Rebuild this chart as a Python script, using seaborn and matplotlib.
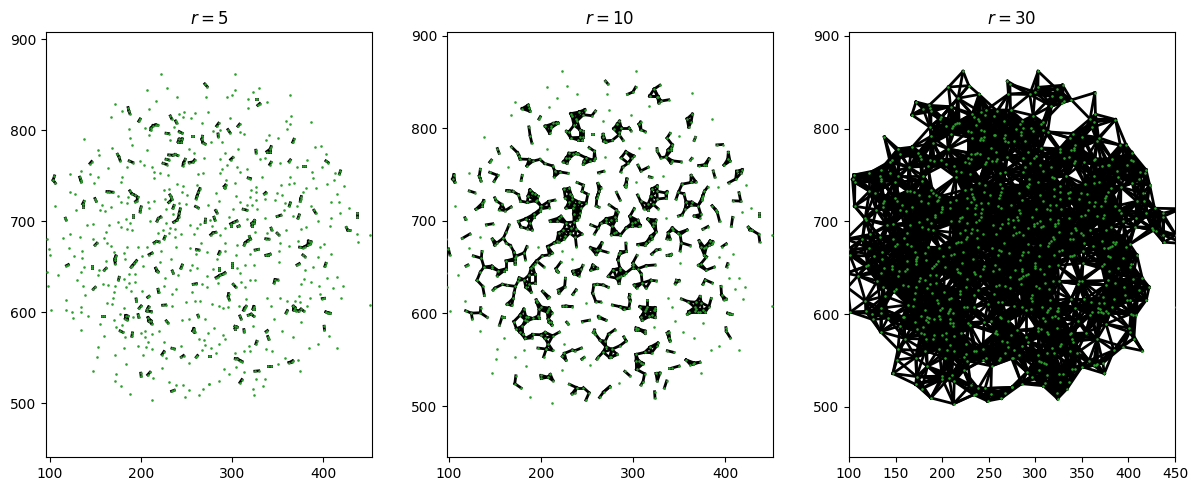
import numpy as np
import pandas as pd
import matplotlib
matplotlib.use('Agg')
import matplotlib.pyplot as plt
import seaborn as sns

# node positions, one list per quadrant
nodes_top_left = [
    (222.5,861.6),(206.8,844.7),(228.6,846.2),(270.1,851),(272.7,848),(239.6,836.7),(217,832.6),(271.2,837),
    (171.9,828.6),(186,825),(186.8,821.7),(187.9,818.4),(179.5,821.3),(209,823.5),(167.5,814.7),(232.3,815.8),
    (233.7,812.9),(241.4,817.6),(247.6,820.2),(259.2,818.7),(273.4,819.8),(246.1,814.7),(255.2,813.6),(199.2,812.5),
    (197.7,810),(238.1,810.3),(239.2,808.1),(266.9,807.8),(216.3,806),(218.5,805.6),(213.4,805.2),(211.2,802.6),
    (210.8,800.4),(204.6,802.3),(235.9,803.4),(186.8,801.5),(227.6,796.8),(230.5,796.4),(242.1,798.6),(245.4,796.8),
    (209.4,794.6),(255.6,793.5),(257,793.5),(267.6,793.5),(266.9,790.2),(138,790.9),(188.2,791.7),(232.3,789.8),
    (242.1,790.2),(245.4,790.5),(240.7,787.3),(244.3,787.3),(268,786.5),(270.5,785),(190,784.3),(167.9,780),
    (152.6,778.1),(206.4,778.1),(252.3,779.2),(154.4,773),(258.1,775.2),(174.4,773.7),(176.2,770.4),(177.3,766.8),
    (235.2,772.6),(237.7,773.4),(240.3,772.3),(230.5,773),(227.6,768.2),(230.5,767.5),(269.8,769),(187.2,766.4),
    (191.2,764.6),(198.8,766.4),(146,765.7),(144.2,763.5),(248.7,768.2),(246.8,764.2),(246.1,761.3),(258.9,767.5),
    (257.4,765.3),(253,764.6),(224.3,763.8),(228.3,762.4),(203.9,762),(184.6,759.4),(212.6,759.4),(164.2,758.3),
    (134,755.8),(214.8,754),(220.6,752.9),(122,752.1),(144.2,752.5),(229.4,751.4),(262.5,752.1),(268,753.6),
    (105.3,749.9),(152.9,749.2),(179.5,749.2),(214.5,747.7),(132.9,748.5),(134,745.5),(134.7,743.3),(103.8,745.2),
    (106.3,741.9),(178.4,743.7),(148.9,742.6),(239.2,741.5),(261.8,740.4),(246.1,738.6),(264.7,736),(263.2,732),
    (261.8,728.3),(260.7,725),(225,734.2),(230.5,735.3),(122,732.4),(127.8,730.5),(162.8,732.7),(165.3,732.4),
    (169.3,732),(187.9,733.5),(190,730.5),(193.3,728.7),(196.6,726.5),(175.5,728.3),(231.9,729),(233.4,726.5),
    (234.1,724),(244.7,732),(250.9,728.7),(186.1,726.9),(226.5,725),(149.7,725),(151.1,722),(195.5,722.5),
    (194.1,721.7),(177.7,721.4),(185,720),(208.3,721),(214.8,722.5),(137.6,722),(136.2,719.2),(136.2,715.9),
    (241.8,720),(249,719.5),(230.5,720.7),(157.3,717.7),(106,716.3),(167.5,715.2),(200.3,715.9),(199.5,713),
    (199.2,710.4),(236.3,717.4),(235.2,714.4),(208.6,714.4),(227.2,714),(260,716.3),(262.9,714.8),(274.1,717.4),
    (129.3,712.6),(154.8,712.2),(161,711.1),(243.2,713.7),(242.1,709),(235.6,707.5),(191.9,707.1),(191.9,704.5),
    (117.3,703.4),(118,701.6),(183.5,702.4),(221.7,704.9),(219.2,703.1),(217.7,700.2),(241.4,704.5),(209.7,700.2),
    (175.5,699.4),(235.9,699),(239.6,701.2),(270.9,702.4),(270.5,698.7),(264.7,697.2),(188.2,698),(227.2,698),
    (140.6,695.8),(147.5,696.9),(165.3,695.8),(254.1,695.8),(178,693.6),(185,691.7),(190.4,690.3),(262.1,692.5),
    (232.3,692.1),(224.3,690.3),(237.7,691),(162,687.7),(219.1,687),(122.7,685.9),(231.2,687),(244.3,685.9),
    (258.1,685.9),(133.6,682.6),(226.5,683.3),(225.4,680.8),(159.1,681.5),(114.4,681.1),(96.9,680.8),(147.1,680.4),
    (237.4,682.2),(217,677.8),(214.5,676.4),(219.9,677.5),(151.8,676),(149.7,673.8),(162.4,676),(166.8,673.4),
    (266.1,676.4),(121.6,671.2),(99.4,669.8),(184.6,672.3),(197,671.6),(207.2,672.3),(238.5,672.3),(253.8,671.2),
    (261,669),
]

nodes_top_right = [
    (303.1,861.6),(329.3,846.6),(302.8,844.4),(323.1,842.5),(299.8,839.2),(294,836.7),(363.9,838.5),(318,834.8),
    (326.4,834.1),(327.5,834.1),(338.8,830.8),(330.4,829.4),(328.2,827.5),(317.3,824.2),(297.7,814),(364.6,815.4),
    (358.8,810.3),(386.1,809.6),(285.3,807.8),(283.1,804.8),(308.2,806.7),(306.4,804.5),(363.2,807),(279.1,799.7),
    (287.1,800.8),(295.5,800.8),(297.7,797.5),(360.6,801.2),(308.6,798.6),(313.3,796.4),(284.6,796),(284.9,793.1),
    (340.3,794.6),(350.4,791.3),(337,789.5),(367.9,790.2),(366.5,786.9),(277.3,786.9),(289.3,786.9),(391.2,782.1),
    (397.4,782.5),(342.8,782.1),(341.7,779.2),(341.7,776.6),(338.1,776.6),(306.4,779.2),(326.1,778.1),(326.4,775.2),
    (292.2,774.8),(403.6,774.1),(300.9,770.1),(298.4,767.9),(287.1,768.2),(330.4,768.2),(335.9,769.3),(363.9,767.5),
    (362.5,765.7),(382.5,767.1),(402.9,766.4),(405.4,764.6),(342.8,764.9),(341.3,762.4),(352.3,763.8),(294.8,762.4),
    (371.6,759.8),(377.7,760.5),(379.6,760.5),(398.9,760.2),(305.3,760.2),(316.6,758),(288.6,758),(286.7,753.2),
    (308.6,754),(387.2,754),(418.9,755.4),(417.8,752.1),(412.7,753.6),(317.7,747.7),(320.2,747),(333,748.8),
    (363.2,749.2),(389,747.4),(293.3,745.2),(411.6,745.2),(303.1,741.9),(368.3,742.2),(362.8,741.5),(404,741.2),
    (353.4,739.7),(292.9,739.7),(291.5,738.2),(292.2,736.8),(326.4,737.9),(381,736.4),(391.9,736.8),(422.9,738.6),
    (320.6,734.6),(377.7,732),(326.1,732),(337,731.6),(335.5,730.2),(349.4,730.9),(355.2,729.4),(282,730.9),
    (415.2,730.5),(304.9,728),(319.9,726.9),(375.9,727.2),(375.2,724.7),(374.8,722.1),(336.2,724.7),(326.4,723.6),
    (346.8,723.6),(286,722.5),(409,721.7),(417.1,721.4),(308.2,721.4),(357.7,720.6),(363.9,720.3),(362.8,717),
    (316.2,717.7),(322.1,717.7),(370.8,716.6),(386.1,716.3),(428,714.1),(301.3,713.3),(312.2,713.3),(316.2,712.2),
    (327.1,713.3),(356.6,712.6),(389.8,712.2),(391.6,709.3),(282,711.9),(283.5,709.3),(418.5,709.3),(436.7,708.6),
    (436.7,704.9),(296.6,704.9),(353.4,706.7),(349.4,705.3),(366.5,705.3),(373.7,707.1),(372.3,703.4),(408.3,703.8),
    (336.2,703.1),(280.2,704.5),(281.3,701.3),(316.2,702),(394.1,699.8),(305.3,700.5),(301.7,698.7),(298.4,697.2),
    (298.4,694.7),(275.8,701.3),(324.6,700.9),(324.2,698),(321.7,697.6),(321.7,695),(307.9,695),(306.4,694.3),
    (277.6,694.3),(406.9,694.3),(381.4,693.9),(292.6,692.5),(342.8,692.5),(343.5,690.6),(425.4,693.2),(426.9,690.3),
    (429.4,689.9),(358.8,690.3),(375.9,691),(325,688.4),(338.4,687.3),(282,688),(279.1,687.3),(276.6,685.2),
    (349.4,687),(351.2,685.2),(286.4,684.8),(436.7,685.5),(450.9,685.2),(319.1,683.3),(320.2,680.4),(317,678.6),
    (314.4,676.4),(313.3,673.8),(337,680.8),(340.3,680.4),(437.8,677.5),(371.9,678.6),(352.6,676.4),(292.2,676),
    (305.3,674.5),(383.9,678.2),(386.5,677.5),(385.8,675.3),(382.8,673.8),(379.9,672.3),(377.7,671.2),(374.1,671.6),
    (401.4,675.3),(362.1,673.4),(397,672.3),
]

nodes_bottom_left = [
    (135.8,667),(170.4,666.7),(181.7,665.6),(100.9,663.4),(126.4,662.3),(135.1,659.7),(172.6,661.9),(171.5,659.4),
    (171.5,657.2),(183.1,658.3),(201.3,662.3),(212.3,665.2),(209,663.4),(222.5,667),(233.4,659),(260,663.8),
    (263.6,668.5),(272.3,666),(162,656.8),(195.2,656.8),(193,653.9),(190.8,651.3),(189.3,649.5),(221.4,655.3),
    (120.5,652.4),(118.4,651.3),(138,650.2),(146.4,651.3),(146.4,649.1),(171.9,653.5),(202.8,650.6),(245.4,652),
    (243.9,648.4),(256.3,652.4),(261.4,648.7),(216.3,648.4),(217.4,645.5),(218.8,644.7),(254.1,646.9),(162,648.4),
    (159.9,646.2),(153.7,646.2),(134,644.7),(96.9,644),(109.6,641.4),(234.5,645.5),(235.6,642.9),(241,641),
    (187.2,641.8),(193.3,642.5),(181.7,636.7),(176.2,638.5),(175.5,635.6),(152.6,640.7),(226.5,638.1),(273.1,640),
    (130.4,635.9),(187.2,632.3),(193.3,633),(261,631.5),(257.4,630.8),(267.6,630.8),(273.1,628.3),(98.3,628.6),
    (136.6,629.3),(158,631.5),(163.5,630.4),(172.2,629.3),(183.5,628.3),(225.7,629),(150,627.5),(147.8,625.3),
    (218.8,625.3),(219.5,622),(238.1,625.7),(189.3,623.1),(170.8,622.8),(201.7,623.9),(256,622),(234.5,620.6),
    (138.4,619.5),(209,617.6),(207.5,616.5),(169.7,616.2),(194.8,614.7),(195.2,612.1),(117.6,614),(259.6,612.9),
    (264.7,612.5),(249.4,611.4),(163.1,610),(168.2,608.9),(223.9,607.8),(227.2,608.1),(233.7,607.4),(134.4,606.3),
    (200.3,607),(198.1,604.5),(208.6,605.9),(207.2,603.4),(206.8,601.5),(181.3,604.8),(118,603),(101.6,602.3),
    (124.2,600.4),(134,600.8),(211.5,600.8),(177.3,598.2),(197,597.5),(197.7,594.6),(183.5,596.4),(185.7,595.7),
    (183.1,593.1),(185.3,592),(157.7,596.4),(159.5,596.4),(141.7,595.7),(191.2,594.6),(262.5,596.8),(263.2,595.3),
    (252.7,592.8),(270.5,592.8),(125.3,594.2),(207.9,594.2),(208.6,590.6),(211.2,590.6),(211.9,587.6),(170.4,591.3),
    (245,591.3),(227.9,590.6),(229.7,588.4),(154.8,587.3),(179.5,586.2),(173.3,583.6),(134,581),(258.1,582.1),
    (257,579.6),(258.9,578.1),(177.3,579.6),(180.2,578.1),(204.6,579.6),(219.9,579.9),(199.9,577),(190.8,577.4),
    (190.1,573.7),(273.4,577.7),(212.6,575.9),(159.9,573.7),(182.8,573),(204.3,573.4),(264.3,571.2),(269.8,570),
    (225.4,567.5),(207.9,567.1),(270.5,564.2),(196.6,562.7),(205.7,561.6),(181.7,560.5),(152.6,562),(234.1,560.5),
    (236.7,559.8),(243.9,562.7),(212.6,560.2),(267.6,558.3),(225.4,556.9),(223.2,553.6),(202.8,553.2),(171.5,553.2),
    (151.5,550.7),(246.8,552.5),(244.3,550.7),(262.1,552.5),(260.7,550.7),(274.5,552.5),(227.2,549.6),(184.2,543.7),
    (253,544.1),(223.2,539.3),(147.1,536),(172.6,532.7),(199.9,533.1),(200.3,529.8),(210.1,534.2),(207.5,531.3),
    (213,527.6),(230.8,523.6),(171.5,524.3),(178.4,519.5),(238.8,519.9),(246.1,519.9),(274.5,521),(268,515.2),
    (236.7,514.4),(233.7,513.3),(252.3,514.4),(187.9,509.7),(263.6,509.3),(248.7,506.4),(212.3,503.4),
]

nodes_bottom_right = [
    (292.6,667),(286.4,666.7),(285.3,664.1),(283.5,658.3),(304.2,662.7),(320.2,664.1),(325.3,668.5),(329,669.2),
    (337,662.7),(339.9,662.7),(341.7,663.8),(351.2,667.8),(351.2,655),(377.7,663),(379.9,661.2),(393.8,660.8),
    (409,663.8),(299.8,654.6),(299.8,652),(299.8,649.5),(323.9,652.4),(314.4,651.7),(373.7,653.5),(371.2,652),
    (402.9,653.9),(401.8,650.6),(388.3,650.2),(285.7,649.1),(285.7,646.9),(305.3,648.4),(278.7,647.3),(379.6,646.9),
    (292.2,643.6),(289.7,641.8),(286.7,640.7),(284.6,639.2),(282.4,638.1),(308.9,642.9),(404.7,638.1),(414.9,638.5),
    (319.5,635.9),(325.3,635.2),(347.2,635.9),(350.1,635.6),(346.1,632.3),(378.5,636.3),(284.9,632.6),(310,633),
    (375.9,631.5),(386.1,633),(301.3,630.8),(303.9,627.9),(314.4,627.5),(395.6,629.3),(422.2,629),(411.2,626.4),
    (296.2,620.6),(295.8,617.3),(296.9,614),(396.3,620.2),(373,618.4),(315.5,615.1),(338.4,616.2),(352.6,615.8),
    (359.9,612.9),(368.6,612.1),(374.1,611.8),(385,616.2),(398.9,615.1),(401.4,615.4),(419.2,615.4),(277.6,609.2),
    (285.7,607.4),(290,604.5),(295.5,605.6),(307.5,607.4),(315.5,606.7),(313.7,604.5),(312.6,602.3),(323.9,606.3),
    (324.2,603.7),(322.8,603.7),(342.4,607),(367.2,606.7),(369,605.2),(367.6,602.6),(370.5,601.9),(375.6,603.4),
    (373,601.5),(378.5,601.5),(382.5,607.4),(360.6,601.9),(359.2,599.3),(450.9,608.1),(402.9,600.4),(405.4,599.3),
    (407.6,599),(317.7,596.8),(321,597.9),(323.9,595.7),(308.6,596),(310,592.7),(345.7,592.4),(375.9,589.5),
    (323.1,585),(303.1,584.7),(305.7,583.6),(303.1,582.1),(280.2,582.5),(313,581),(313.3,578.5),(401,584.7),
    (401.4,580.7),(338.8,579.9),(337.3,578.8),(354.4,579.9),(290,574.8),(366.5,573.4),(405.8,573.7),(339.2,573.4),
    (340.3,570.4),(292.6,570.4),(327.1,568.2),(326.1,565.3),(286,565.3),(318.4,563.5),(393.8,564.9),(276.9,561.3),
    (384.3,560.9),(414.9,560.5),(312.6,558),(320.2,557.6),(337.3,559.8),(344.3,558),(282.7,555.8),(303.1,555.8),
    (275.8,552.5),(303.5,549.2),(306,548.8),(308.9,547),(311.1,545.9),(357.7,549.9),(372.6,547.4),(362.5,544.8),
    (365.4,545.2),(366.5,546.6),(350.1,543.3),(339.5,541.1),(342.4,541.1),(303.9,539.7),(291.1,537.5),(374.1,536),
    (312.6,534.9),(325,535.3),(329.3,535.7),(296.6,532.7),(326.4,527.2),(336.6,527.2),(310.8,526.1),(308.6,522.8),
    (285.3,525),(275.1,521),(334.1,519.5),(323.5,515.5),(323.9,508.9),
]

# just past the right edge, only their edges show in the r = 30 panel
nodes_off_axis = [(456,713.5),(460,676)]

radii = [5, 10, 30]
titles = ['$r = 5$', '$r = 10$', '$r = 30$']
xlims = [(96, 453.5), (97.8, 452.2), (100, 450)]
ylims = [(441, 908), (445, 904), (446, 904)]
xticks = [[100, 200, 300, 400], [100, 200, 300, 400], list(range(100, 451, 50))]
yticks = [500, 600, 700, 800, 900]
axes_left_px = [46, 447, 849]

W, H = 1197, 490
nodes = pd.DataFrame(nodes_top_left + nodes_top_right + nodes_bottom_left + nodes_bottom_right + nodes_off_axis,
                     columns=['x', 'y'])


def edge_table(df, r):
    # one row per edge end, so lineplot can draw each edge as its own unit
    pts = df[['x', 'y']].to_numpy()
    dist = np.hypot(pts[:, None, 0] - pts[None, :, 0], pts[:, None, 1] - pts[None, :, 1])
    a, b = np.where(np.triu(dist < r, 1))
    ids = np.arange(len(a))
    return pd.DataFrame({'edge': np.concatenate([ids, ids]),
                         'x': np.concatenate([pts[a, 0], pts[b, 0]]),
                         'y': np.concatenate([pts[a, 1], pts[b, 1]])})


fig, axs = plt.subplots(1, 3, figsize=(W / 100, H / 100), dpi=100)

for i, ax in enumerate(axs):
    ax.set_position([axes_left_px[i] / W, (H - 457) / H, 326 / W, 425 / H])
    sns.lineplot(data=edge_table(nodes, radii[i]), x='x', y='y', units='edge', estimator=None,
                 sort=False, color='black', linewidth=2, legend=False, ax=ax)
    sns.scatterplot(data=nodes, x='x', y='y', color='tab:green', s=3.5, linewidth=0, zorder=3,
                    legend=False, ax=ax)
    ax.set_title(titles[i])
    ax.set(xlabel='', ylabel='')
    ax.set_xticks(xticks[i])
    ax.set_yticks(yticks)
    ax.set_xlim(xlims[i])
    ax.set_ylim(ylims[i])

fig.savefig('out.png', dpi=100)
